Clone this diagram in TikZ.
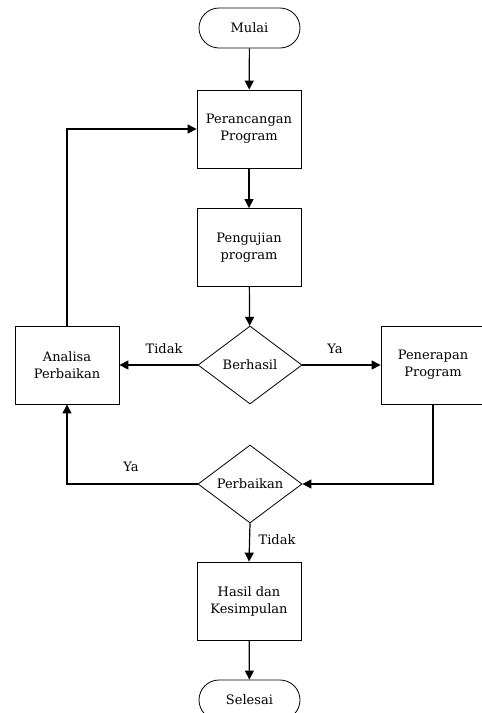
\documentclass[tikz,border=0pt]{standalone}
\usepackage{fontspec}
\setmainfont{DejaVu Serif}
\usetikzlibrary{shapes.geometric,arrows.meta}
\begin{document}
\begin{tikzpicture}[x=1pt,y=-1pt,
  every node/.style={font=\fontsize{13}{17}\selectfont},
  term/.style={draw,line width=0.8pt,rounded corners=20pt,minimum width=101pt,minimum height=40pt,inner sep=0pt},
  proc/.style={draw,line width=0.8pt,minimum width=104pt,minimum height=78pt,align=center,inner sep=0pt},
  dec/.style={draw,line width=0.8pt,diamond,minimum width=104pt,minimum height=78pt,inner sep=0pt,aspect=1.33},
  flow/.style={line width=1.2pt,-{Triangle[length=9pt,width=9pt]}},
  lbl/.style={inner sep=0pt}]
\useasboundingbox (0,0) rectangle (482,713);
\node[term] (mulai) at (249.5,28) {Mulai};
\node[proc] (rancang) at (249,129) {Perancangan\\Program};
\node[proc] (uji) at (249,247.5) {Pengujian\\program};
\node[dec] (berhasil) at (250,365) {Berhasil};
\node[proc] (analisa) at (67,365) {Analisa\\Perbaikan};
\node[proc] (terap) at (433,365) {Penerapan\\Program};
\node[dec] (perbaikan) at (250,484) {Perbaikan};
\node[proc] (hasil) at (249,601) {Hasil dan\\Kesimpulan};
\node[term] (selesai) at (249.5,700) {Selesai};
\draw[flow] (mulai) -- (rancang);
\draw[flow] (rancang) -- (uji);
\draw[flow] (uji) -- (berhasil);
\draw[flow] (berhasil.west) -- (analisa.east);
\draw[flow] (berhasil.east) -- (terap.west);
\draw[flow] (terap.south) |- (perbaikan.east);
\draw[flow] (perbaikan.west) -| (analisa.south);
\draw[flow] (analisa.north) |- (rancang.west);
\draw[flow] (perbaikan.south) -- (hasil.north);
\draw[flow] (hasil) -- (selesai);
\node[lbl] (t1) at (164,349) {Tidak};
\node[lbl] (y1) at (335,349) {Ya};
\node[lbl] (y2) at (131,467) {Ya};
\node[lbl] (t2) at (277,540) {Tidak};
\end{tikzpicture}
\end{document}
